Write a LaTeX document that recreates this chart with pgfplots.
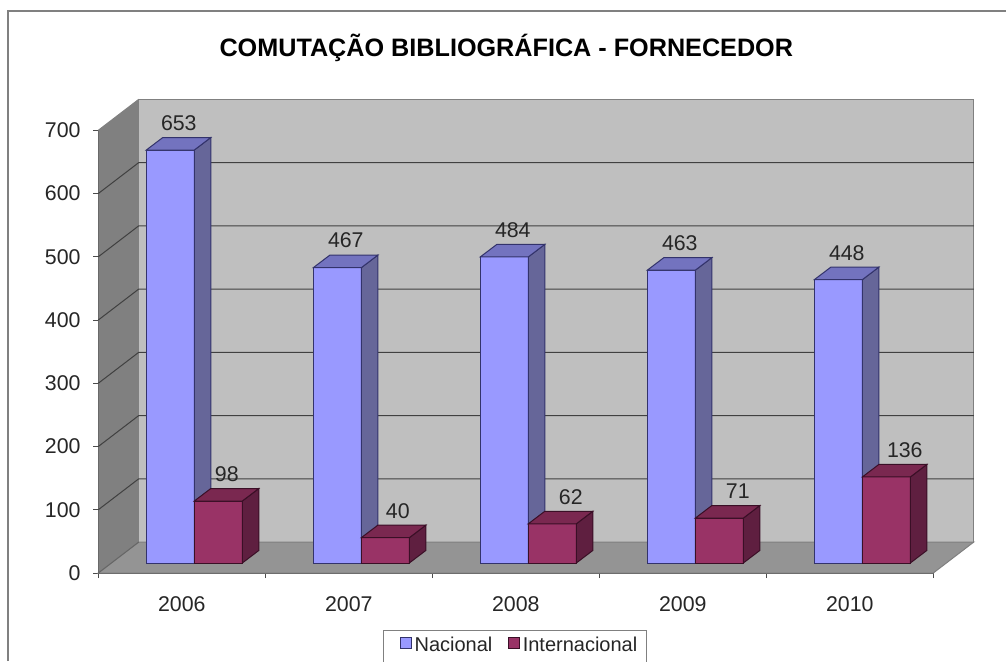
\documentclass[border=0pt]{standalone}
\usepackage{pgfplots}
\pgfplotsset{compat=1.18}
\usepackage{fontspec}
\setmainfont{Liberation Sans}
\definecolor{natF}{HTML}{9999FF}
\definecolor{natS}{HTML}{666699}
\definecolor{natT}{HTML}{7373BF}
\definecolor{natE}{HTML}{33336B}
\definecolor{intF}{HTML}{993366}
\definecolor{intS}{HTML}{5F1F40}
\definecolor{intT}{HTML}{7A2850}
\definecolor{intE}{HTML}{3A0F26}
\definecolor{txt}{HTML}{262626}
\def\px{0.75pt}
% depth of a bar and offset of the bars from the front plane, in data units
\def\bw{0.2874}\def\bd{0.0988}\def\bdy{19.8}\def\sx{0.0749}\def\sy{15.8}
% side and top faces of a bar: right edge x (data), value, side, top, edge
\newcommand\barfaces[5]{%
  \pgfmathsetmacro\xr{#1+\sx}%
  \pgfmathsetmacro\xl{\xr-\bw}%
  \pgfmathsetmacro\xrb{\xr+\bd}%
  \pgfmathsetmacro\xlb{\xl+\bd}%
  \pgfmathsetmacro\yb{\sy}%
  \pgfmathsetmacro\ybb{\sy+\bdy}%
  \pgfmathsetmacro\yt{#2+\sy}%
  \pgfmathsetmacro\ytb{#2+\sy+\bdy}%
  \addplot[forget plot,fill=#3,draw=#5,line width=1*\px] coordinates {(\xr,\yb) (\xrb,\ybb) (\xrb,\ytb) (\xr,\yt)} --cycle;
  \addplot[forget plot,fill=#4,draw=#5,line width=1*\px] coordinates {(\xl,\yt) (\xlb,\ytb) (\xrb,\ytb) (\xr,\yt)} --cycle;
}
\newcommand\gridl[2]{%
  \addplot[forget plot,draw=#2,line width=1*\px] coordinates {(0,#1) (0.2425,#1+49) (5.2425,#1+49)};
}
\begin{document}
\begin{tikzpicture}[x=\px,y=\px]
\path[use as bounding box] (0,0) rectangle (1006,661);
\clip (0,0) rectangle (1006,661);
\fill[white] (0,0) rectangle (1006,661);
\draw[draw=gray,line width=1.2*\px] (8,0) -- (8,650) -- (1006,650);
\begin{axis}[
  at={(98.3*\px,88*\px)}, anchor=origin,
  scale only axis, width=835*\px, height=442.7*\px,
  xmin=0, xmax=5, ymin=0, ymax=700,
  clip=false,
  axis x line*=bottom, axis y line*=left,
  axis line style={-,draw=black!75,line width=1.2*\px},
  tick align=outside,
  major tick length=5*\px, minor tick length=5*\px,
  tick style={draw=black!70,line width=1*\px},
  major x tick style={draw=none},
  xtick={0.5,1.5,2.5,3.5,4.5},
  xticklabels={2006,2007,2008,2009,2010},
  minor xtick={0,1,2,3,4,5},
  ytick={0,100,200,300,400,500,600,700},
  tick label style={font=\fontsize{16}{16}\selectfont,text=txt},
  /pgf/number format/assume math mode=true,
  xticklabel style={yshift=-14*\px},
  yticklabel style={xshift=-8*\px},
  title={COMUTAÇÃO BIBLIOGRÁFICA - FORNECEDOR},
  title style={at={(0.4886,1.169)},anchor=center,font=\fontsize{18.9}{18.9}\selectfont\bfseries,text=black},
  legend style={at={(0.3415,-0.1287)},anchor=north west,draw=gray,line width=1*\px,fill=white,
    font=\fontsize{15}{15}\selectfont,text=txt,legend columns=2,
    inner xsep=2*\px,inner ysep=3.5*\px,
    /tikz/every even column/.append style={column sep=13*\px}},
  legend cell align=left,
]
% walls and floor
\addplot[forget plot,fill=gray,draw=none] coordinates {(0,0) (0.2425,49) (0.2425,749) (0,700)} --cycle;
\addplot[forget plot,fill=black!25,draw=gray,line width=1*\px] coordinates {(0.2425,49) (5.2425,49) (5.2425,749) (0.2425,749)} --cycle;
\addplot[forget plot,fill=black!42,draw=gray,line width=1*\px] coordinates {(0,0) (5,0) (5.2425,49) (0.2425,49)} --cycle;
\gridl{100}{black!75}
\gridl{200}{black!75}
\gridl{300}{black!75}
\gridl{400}{black!75}
\gridl{500}{black!75}
\gridl{600}{black!75}
\addplot[forget plot,draw=gray,line width=1*\px] coordinates {(0,700) (0.2425,749)};
\addplot[forget plot,draw=black!60,line width=1*\px] coordinates {(0,0) (0.2425,49)};
% Nacional
\addplot[ybar,bar width=48*\px,bar shift=-11.5*\px,yshift=10*\px,fill=natF,draw=natE,line width=1*\px,
  legend image code/.code={\path (-14*\px,-26*\px);\draw[fill=natF,draw=natE,line width=1*\px] (0pt,-13.5*\px) rectangle (11*\px,-2.5*\px);},
  nodes near coords,
  every node near coord/.append style={anchor=center,xshift=-3*\px,yshift=27*\px,font=\fontsize{16}{16}\selectfont,text=txt,/pgf/number format/assume math mode=true}]
  coordinates {(0.5,653) (1.5,467) (2.5,484) (3.5,463) (4.5,448)};
\addlegendentry{Nacional}
\barfaces{0.5}{653}{natS}{natT}{natE}
\barfaces{1.5}{467}{natS}{natT}{natE}
\barfaces{2.5}{484}{natS}{natT}{natE}
\barfaces{3.5}{463}{natS}{natT}{natE}
\barfaces{4.5}{448}{natS}{natT}{natE}
% Internacional
\addplot[ybar,bar width=48*\px,bar shift=36.5*\px,yshift=10*\px,fill=intF,draw=intE,line width=1*\px,
  legend image code/.code={\draw[fill=intF,draw=intE,line width=1*\px] (0pt,-13.5*\px) rectangle (11*\px,-2.5*\px);},
  nodes near coords,
  coordinate style/.condition={x==0.5}{xshift=-10*\px},
  coordinate style/.condition={x==1.5}{xshift=-6*\px},
  every node near coord/.append style={anchor=center,xshift=55*\px,yshift=27*\px,font=\fontsize{16}{16}\selectfont,text=txt,/pgf/number format/assume math mode=true}]
  coordinates {(0.5,98) (1.5,40) (2.5,62) (3.5,71) (4.5,136)};
\addlegendentry{Internacional\hspace{3.75pt}\mbox{}}
\barfaces{0.7874}{98}{intS}{intT}{intE}
\barfaces{1.7874}{40}{intS}{intT}{intE}
\barfaces{2.7874}{62}{intS}{intT}{intE}
\barfaces{3.7874}{71}{intS}{intT}{intE}
\barfaces{4.7874}{136}{intS}{intT}{intE}
\end{axis}
\end{tikzpicture}
\end{document}
